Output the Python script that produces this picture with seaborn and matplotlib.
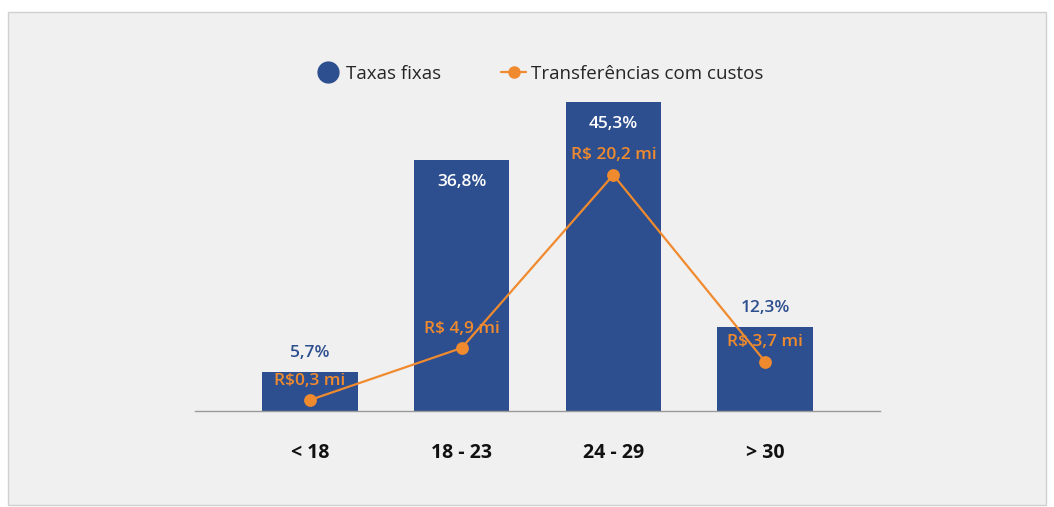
import matplotlib
matplotlib.use("Agg")
import matplotlib.pyplot as plt
import seaborn as sns
import pandas as pd
from matplotlib.lines import Line2D
from matplotlib.patches import Rectangle

# data
faixas = ["< 18", "18 - 23", "24 - 29", "> 30"]
taxas_fixas = [5.7, 36.8, 45.3, 12.3]            # %
transferencias = [0.3, 4.9, 20.2, 3.7]          # R$ milhões
rotulos_pct = ["5,7%", "36,8%", "45,3%", "12,3%"]
rotulos_rs = ["R$0,3 mi", "R$ 4,9 mi", "R$ 20,2 mi", "R$ 3,7 mi"]

AZUL = "#2d4f8f"
LARANJA = "#f08a2e"
FUNDO = "#f0f0f0"

sns.set_style("white")
plt.rcParams["font.family"] = ["Open Sans", "DejaVu Sans"]

df = pd.DataFrame({"faixa": faixas, "taxa": taxas_fixas, "transf": transferencias})

fig = plt.figure(figsize=(10.54, 5.07), dpi=100, facecolor="white")
fig.patches.append(Rectangle((8 / 1054, 2 / 507), 1038 / 1054, 493 / 507,
                             transform=fig.transFigure, facecolor=FUNDO,
                             edgecolor="#d0d0d0", linewidth=1, zorder=-10))

ax = fig.add_axes([195 / 1054, 1 - 411 / 507, 685 / 1054, 321 / 507])
ax.set_facecolor("none")

sns.barplot(data=df, x="faixa", y="taxa", color=AZUL, saturation=1,
            width=0.63, linewidth=0, edgecolor=AZUL, ax=ax)
ax.set_ylim(0, 47.06)

ax2 = ax.twinx()
sns.pointplot(data=df, x="faixa", y="transf", color=LARANJA, errorbar=None,
              markersize=8, linewidth=1.6, ax=ax2)
ax2.set_ylim(-0.673, 27.71)

for a in (ax, ax2):
    a.set_xlim(-0.758, 3.758)
    a.set_xlabel("")
    a.set_ylabel("")
    a.set_yticks([])
    for s in ("top", "right", "left"):
        a.spines[s].set_visible(False)
ax2.spines["bottom"].set_visible(False)
ax.spines["bottom"].set_color("#9a9a9a")
ax.spines["bottom"].set_linewidth(1)

ax.set_xticks(range(len(faixas)))
ax.set_xticklabels(faixas, fontsize=14, fontweight="bold", color="#111111")
ax.tick_params(axis="x", length=0, pad=23)

# percent labels: inside tall bars, above short ones
for i, (v, txt) in enumerate(zip(taxas_fixas, rotulos_pct)):
    if v > 20:
        ax.annotate(txt, (i, v), xytext=(0, -16), textcoords="offset points",
                    ha="center", va="center", color="white", fontsize=12.5,
                    fontweight="semibold")
    else:
        ax.annotate(txt, (i, v), xytext=(0, 14), textcoords="offset points",
                    ha="center", va="center", color=AZUL, fontsize=12.5,
                    fontweight="semibold")

for i, (v, txt) in enumerate(zip(transferencias, rotulos_rs)):
    ax2.annotate(txt, (i, v), xytext=(0, 14), textcoords="offset points",
                 ha="center", va="center", color=LARANJA, fontsize=12.5,
                 fontweight="semibold")

handles = [
    Line2D([], [], marker="o", linestyle="none", color=AZUL, markersize=15),
    Line2D([], [], marker="o", color=LARANJA, markersize=8, linewidth=1.6),
]
fig.legend(handles, ["Taxas fixas", "Transferências com custos"], ncol=2,
           loc="center", bbox_to_anchor=(540 / 1054, 1 - 74 / 507),
           frameon=False, fontsize=13.5, handlelength=1.3, handletextpad=0.3,
           columnspacing=3.2)

fig.savefig("out.png", dpi=100, facecolor="white")
